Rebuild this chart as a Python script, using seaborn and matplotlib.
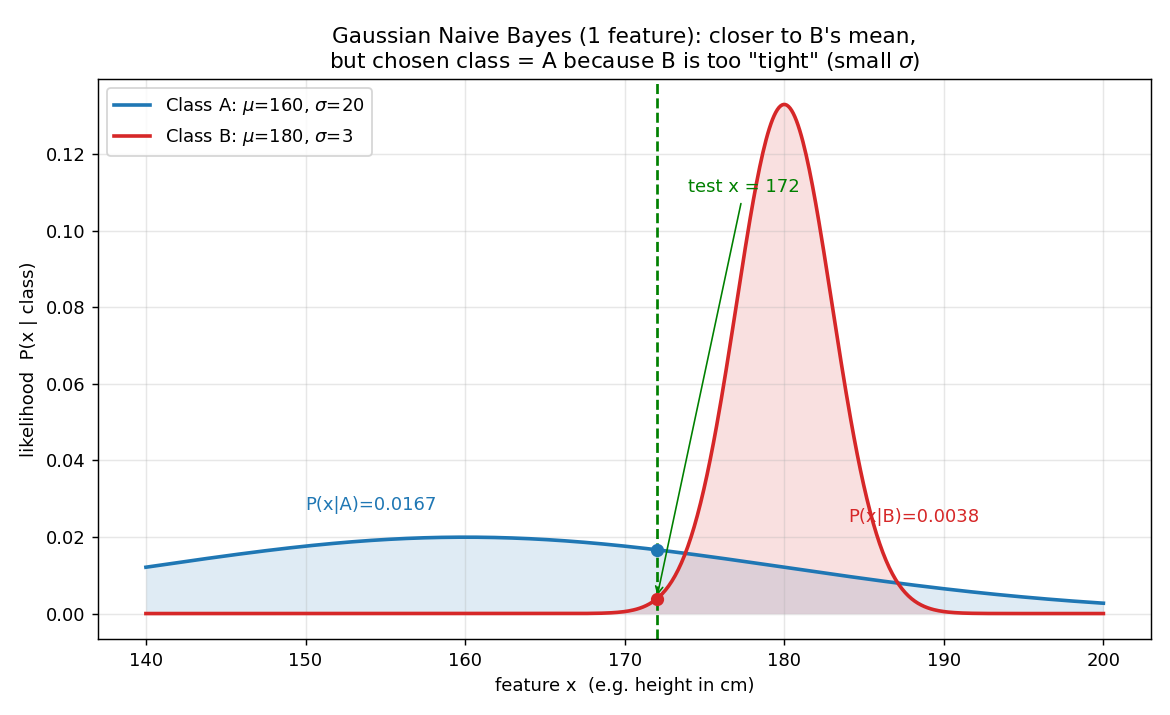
import numpy as np
import seaborn as sns
import matplotlib.pyplot as plt

# class parameters (as stated in the legend)
class_names = ["A", "B"]
class_means = [160, 180]
class_sigmas = [20, 3]
class_colors = ["tab:blue", "tab:red"]

x_range = [140, 200]
x_test = 172
test_label = "test x = 172"


def gauss_pdf(x, mu, sigma):
    return np.exp(-0.5 * ((x - mu) / sigma) ** 2) / (sigma * np.sqrt(2 * np.pi))


plt.rcParams['font.family'] = ['DejaVu Sans']

fig, ax = plt.subplots(figsize=(9, 5.5), dpi=130)

xs = np.linspace(x_range[0], x_range[1], 600)
likelihoods = []
for name, mu, sd, col in zip(class_names, class_means, class_sigmas, class_colors):
    ys = gauss_pdf(xs, mu, sd)
    sns.lineplot(x=xs, y=ys, ax=ax, color=col, lw=2,
                 label=f"Class {name}: $\\mu$={mu}, $\\sigma$={sd}")
    ax.fill_between(xs, ys, color=col, alpha=0.14, lw=0)
    p = gauss_pdf(x_test, mu, sd)
    likelihoods.append(p)
    ax.scatter([x_test], [p], color=col, s=40, zorder=5)

ax.axvline(x_test, color="green", ls="--", lw=1.5)

ax.annotate(test_label, xy=(x_test, likelihoods[1]), xytext=(x_test + 2, 0.11),
            color="green",
            arrowprops=dict(arrowstyle="->", color="green", lw=0.9))

ax.text(150, 0.027, f"P(x|A)={likelihoods[0]:.4f}", color="tab:blue")
ax.text(184, 0.024, f"P(x|B)={likelihoods[1]:.4f}", color="tab:red")

ax.set_title("Gaussian Naive Bayes (1 feature): closer to B's mean,\n"
             "but chosen class = A because B is too \"tight\" (small $\\sigma$)",
             fontsize=12)
ax.set_xlabel("feature x  (e.g. height in cm)")
ax.set_ylabel("likelihood  P(x | class)")
ax.grid(True, alpha=0.3)
ax.legend(loc="upper left")

fig.subplots_adjust(left=0.0838, right=0.984, top=0.8895, bottom=0.1063)
fig.savefig("out.png", dpi=130)
